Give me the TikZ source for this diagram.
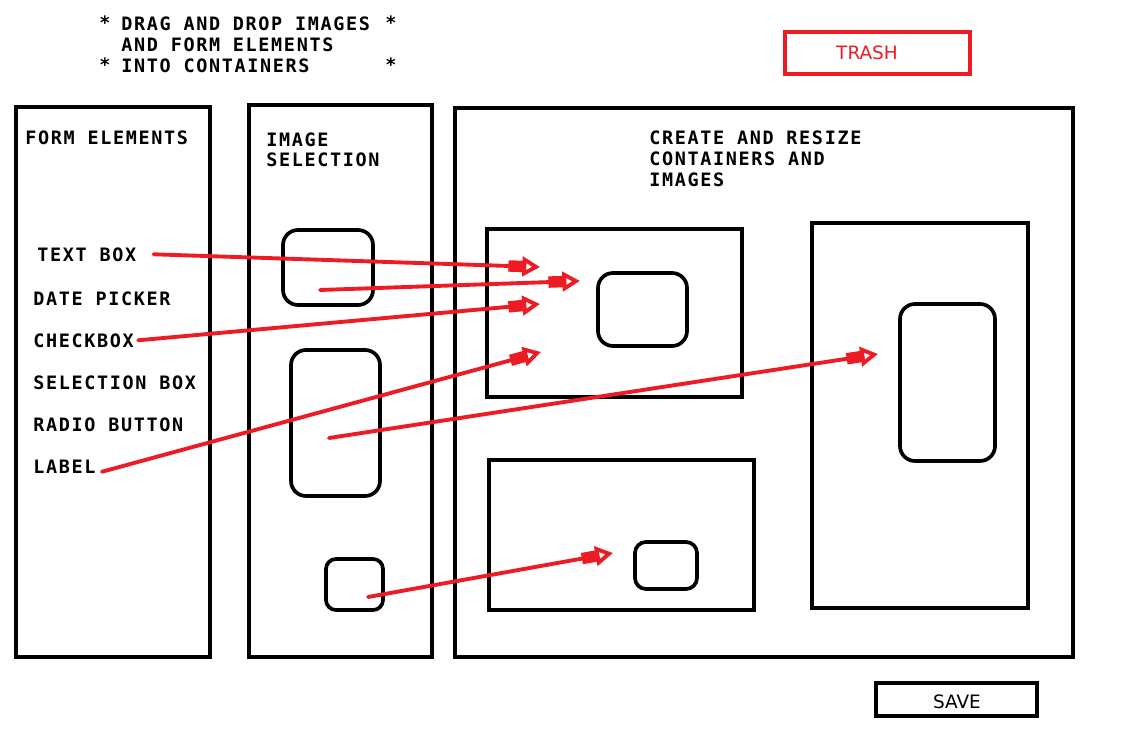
\documentclass[tikz,border=0pt]{standalone}
\usepackage{fontspec}
\newfontfamily\sketchmono{DejaVu Sans Mono Bold}[LetterSpace=9]
\newfontfamily\sketchsans{DejaVu Sans}
\usetikzlibrary{arrows.meta, fit}
\definecolor{paintred}{RGB}{237,28,36}

\begin{document}
\begin{tikzpicture}[
    x=0.02cm, y=-0.02cm,
    every node/.append style = {font=\sketchmono\fontsize{10.5}{11.9}\selectfont,
      inner sep=0pt},
    panel/.style = {draw, line width=2.5pt, inner sep=0pt},
    picframe/.style = {draw, line width=2.1pt, rounded corners=0.3cm,
      inner sep=0pt},
    button/.style = {font=\sketchsans\fontsize{10.5}{12}\selectfont},
    drag/.style = {draw=paintred, line width=2.2pt, line cap=round,
      -{Rectangle[length=9pt, width=6.5pt, sep=-1pt]
        Triangle[open, length=10pt, width=11pt, line width=2.2pt]}}
  ]
  \path[fill=white, use as bounding box] (0,0) rectangle (1129,743);
  \begin{scope}
    \node[anchor=north west, align=left] (hint) at (121,16.5)
      {DRAG AND DROP IMAGES\\AND FORM ELEMENTS\\INTO CONTAINERS};
    \foreach \x/\y [count=\i] in {105/29.5, 391/29.5, 105/71.5, 391/71.5} {
      \node[anchor=base] (star\i) at (\x,\y) {*};
    }
    \node[panel, draw=paintred, fit={(785,32) (970,74)}] (trash) {};
    \node[button, text=paintred, anchor=base] (trashlbl) at (867,59.5) {TRASH};
    \node[panel, fit={(876,683) (1037,716)}] (save) {};
    \node[button, anchor=base] (savelbl) at (957,708) {SAVE};
  \end{scope}
  \begin{scope}
    \node[panel, fit={(16,107) (210,657)}] (forms) {};
    \node[anchor=base west] (formstitle) at (25,145) {FORM ELEMENTS};
    \foreach \id/\txt/\x/\y in {tbox/TEXT BOX/37/261, dpick/DATE PICKER/33/305,
        cbox/CHECKBOX/33/347, sbox/SELECTION BOX/33/389,
        rbtn/RADIO BUTTON/33/431, lbl/LABEL/33/473} {
      \node[anchor=base west] (\id) at (\x,\y) {\txt};
    }
  \end{scope}
  \begin{scope}
    \node[panel, fit={(249,105) (432,657)}] (imgsel) {};
    \node[anchor=north west, align=left] (imgseltitle) at (266,132)
      {IMAGE\\SELECTION};
    \node[picframe, fit={(283,230) (373,305)}] (img1) {};
    \node[picframe, fit={(291,350) (380,496)}] (img2) {};
    \node[picframe, rounded corners=0.2cm, fit={(326,559) (383,610)}] (img3) {};
  \end{scope}
  \begin{scope}
    \node[panel, fit={(455,108) (1073,657)}] (canvas) {};
    \node[anchor=north west, align=left] (canvastitle) at (649,130.5)
      {CREATE AND RESIZE\\CONTAINERS AND\\IMAGES};
    \node[panel, fit={(487,229) (742,397)}] (cont1) {};
    \node[panel, fit={(489,460) (754,610)}] (cont2) {};
    \node[panel, fit={(812,223) (1028,608)}] (cont3) {};
    \node[picframe, fit={(598,273) (687,346)}] (img4) {};
    \node[picframe, rounded corners=0.22cm, fit={(635,542) (697,589)}] (img5) {};
    \node[picframe, fit={(900,304) (995,461)}] (img6) {};
  \end{scope}
  \coordinate (tb-drop) at (540,267);
  \coordinate (cb-drop) at (540,304);
  \coordinate (lbl-drop) at (541,352);
  \coordinate (img1-grab) at (320,290);
  \coordinate (img1-drop) at (580,281);
  \coordinate (img2-grab) at (329,438);
  \coordinate (img2-drop) at (878,354);
  \coordinate (img3-grab) at (368,597);
  \coordinate (img3-drop) at (613,553);
  \draw[drag] ([xshift=0.34cm]tbox.east) -- (tb-drop);
  \draw[drag] (img1-grab) -- (img1-drop);
  \draw[drag] ([xshift=0.08cm]cbox.east) -- (cb-drop);
  \draw[drag] ([xshift=0.12cm, yshift=-0.11cm]lbl.east) -- (lbl-drop);
  \draw[drag] (img2-grab) -- (img2-drop);
  \draw[drag] (img3-grab) -- (img3-drop);
\end{tikzpicture}
\end{document}
